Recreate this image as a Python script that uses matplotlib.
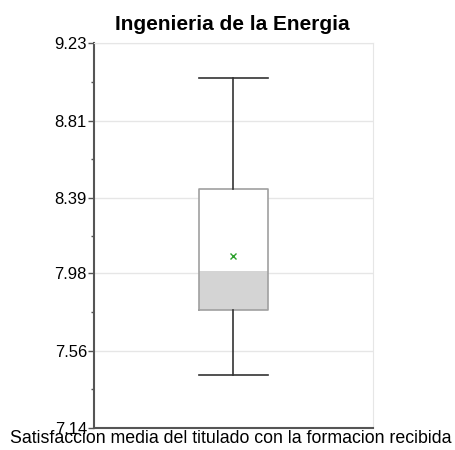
import matplotlib
matplotlib.use('Agg')
import numpy as np
from matplotlib import pyplot as plt
from matplotlib.ticker import FixedLocator

plt.rcParams['font.family'] = ['Liberation Sans', 'DejaVu Sans']

title = 'Ingenieria de la Energia'
xlabel = 'Satisfaccion media del titulado con la formacion recibida'
yticks = [7.14, 7.56, 7.98, 8.39, 8.81, 9.23]

# summary statistics for the single box
whislo = 7.43
q1 = 7.78
med = 7.99
q3 = 8.44
whishi = 9.04
mean = 8.075

fig = plt.figure(figsize=(4.56, 4.5), dpi=100)
ax = fig.add_axes([0.206, 0.049, 0.612, 0.855])

stats = [dict(whislo=whislo, q1=q1, med=med, q3=q3, whishi=whishi, mean=mean, fliers=[])]
box_w = 0.25
ax.bar(1, med - q1, bottom=q1, width=box_w, color='#d4d4d4', zorder=2)
ax.bar(1, q3 - med, bottom=med, width=box_w, color='white', zorder=2)
ax.bxp(stats, positions=[1], widths=box_w, showmeans=True, showcaps=True,
       boxprops=dict(color='#a0a0a0', linewidth=1.2),
       whiskerprops=dict(color='#333333', linewidth=1.2),
       capprops=dict(color='#333333', linewidth=1.2),
       medianprops=dict(linewidth=0),
       meanprops=dict(marker='x', markeredgecolor='#2ca02c', markersize=4, markeredgewidth=1),
       capwidths=box_w, zorder=3)

ax.set_xlim(0.5, 1.5)
ax.set_ylim(yticks[0], yticks[-1])
ax.set_xticks([])
ax.yaxis.set_major_locator(FixedLocator(yticks))
ax.yaxis.set_minor_locator(FixedLocator([(a + b) / 2 for a, b in zip(yticks[:-1], yticks[1:])]))
ax.set_yticklabels([f'{t:.2f}' for t in yticks], fontsize=12)
ax.tick_params(axis='y', which='major', length=4, width=1, color='#555555', pad=1)
ax.tick_params(axis='y', which='minor', length=2, width=1, color='#555555')
ax.grid(axis='y', color='#e6e6e6', linewidth=1, zorder=0)
ax.set_axisbelow(True)

for side in ('top', 'right'):
    ax.spines[side].set_color('#e6e6e6')
for side in ('left', 'bottom'):
    ax.spines[side].set_color('#555555')
    ax.spines[side].set_linewidth(1.5)

fig.text(0.51, 0.933, title, ha='center', va='baseline', fontsize=15, fontweight='bold')
fig.text(0.505, 0.016, xlabel, ha='center', va='baseline', fontsize=12.8)

fig.savefig('out.png', dpi=100)
